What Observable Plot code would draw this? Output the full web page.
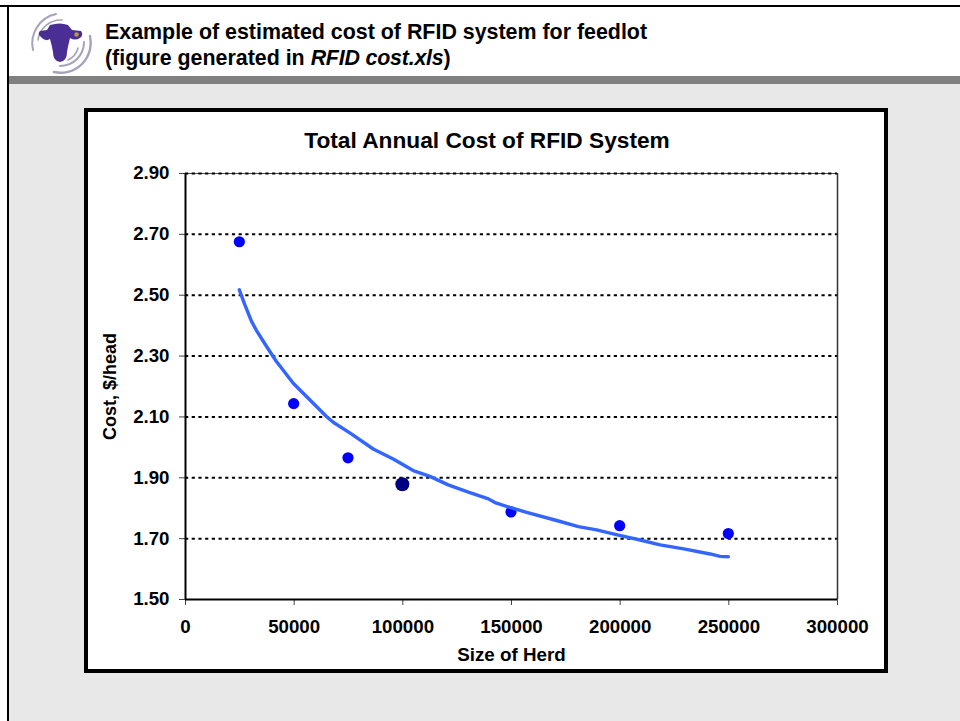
<!DOCTYPE html>
<html>
<head>
<meta charset="utf-8">
<script src="https://cdn.jsdelivr.net/npm/d3@7"></script>
<script src="https://cdn.jsdelivr.net/npm/@observablehq/plot@0.6"></script>
<style>
html,body{margin:0;padding:0;background:#fff;}
#slide{position:relative;width:960px;height:721px;overflow:hidden;background:#e8e8e8;font-family:"Liberation Sans",Arial,sans-serif;}
#top{position:absolute;left:0;top:5px;width:960px;height:2px;background:#000;}
#head{position:absolute;left:9px;top:7px;width:951px;height:69px;background:#fff;}
#bar{position:absolute;left:9px;top:76px;width:951px;height:8px;background:#808080;}
#white0{position:absolute;left:0;top:0;width:960px;height:5px;background:#fff;}
#white1{position:absolute;left:0;top:0;width:7px;height:721px;background:#fff;}
#left{position:absolute;left:7px;top:5px;width:2px;height:716px;background:#000;}
#frame{position:absolute;left:84px;top:108px;width:796px;height:557px;background:#fff;border:4px solid #000;}
#hd{position:absolute;left:105px;top:19px;font-weight:bold;font-size:21.4px;line-height:26px;color:#000;white-space:nowrap;}
#hd i{letter-spacing:-0.2px;}
#logo{position:absolute;left:27px;top:10px;}
#chart{position:absolute;left:0;top:0;}
#chart svg{background:transparent;}
</style>
</head>
<body>
<div id="slide">
  <div id="white0"></div><div id="white1"></div>
  <div id="top"></div><div id="head"></div><div id="bar"></div><div id="left"></div>
  <div id="frame"></div>
  <svg id="logo" width="68" height="66" viewBox="27 10 68 66">
    <defs><filter id="b"><feGaussianBlur stdDeviation="0.7"/></filter></defs>
    <g fill="none" stroke="#a6a2b8" filter="url(#b)" stroke-linecap="round">
      <path d="M33 50A30 30 0 0 1 56 14" stroke-width="2"/>
      <path d="M38 40A23 23 0 0 1 62 20" stroke-width="1.6"/>
      <path d="M90 36A30 30 0 0 1 54 72" stroke-width="2.4"/>
      <path d="M84 42A24 24 0 0 1 60 66" stroke-width="2"/>
      <path d="M78 48A18 18 0 0 1 68 60" stroke-width="1.6"/>
    </g>
    <path filter="url(#b)" fill="#4b2e93" d="M50 25Q60 22 68 25L72 30L81 31Q84 35 80 38Q75 41 70 38Q68 46 67 52Q67 61 60 62Q53 61 53 52Q52 46 50 39Q45 42 41 37Q37 34 40 31L47 30Z"/>
    <circle cx="76.5" cy="34.5" r="2.2" fill="#b59a52"/>
  </svg>
  <div id="hd">Example of estimated cost of RFID system for feedlot<br>(figure generated in <i>RFID cost.xls</i>)</div>
  <div id="chart"></div>
</div>
<script>
const herd = [25000, 50000, 75000, 150000, 200000, 250000];
const cost = [2.674, 2.142, 1.964, 1.786, 1.741, 1.715];
const highlightHerd = [100000];
const highlightCost = [1.877];
const fitHerd = [25000,27600,30700,33000,36800,41900,49800,57500,65200,68200,76700,86600,95800,105000,112700,121100,130400,139600,142600,149500,157200,171000,181000,189400,199400,209400,218600,230100,241600,246200,250000];
const fitCost = [2.516,2.466,2.411,2.381,2.338,2.282,2.209,2.154,2.099,2.081,2.042,1.993,1.960,1.922,1.903,1.875,1.851,1.829,1.817,1.801,1.785,1.758,1.738,1.727,1.710,1.694,1.678,1.664,1.648,1.640,1.639];
const yTicks = [1.5,1.7,1.9,2.1,2.3,2.5,2.7,2.9];
const gridTicks = [1.7,1.9,2.1,2.3,2.5,2.7,2.9];
const xTicks = [0,50000,100000,150000,200000,250000,300000];
const chartTitle = "Total Annual Cost of RFID System";
const xLabel = "Size of Herd";
const yLabel = "Cost, $/head";

const points = herd.map((h,i)=>({h,c:cost[i]}));
const hi = highlightHerd.map((h,i)=>({h,c:highlightCost[i]}));
const fit = fitHerd.map((h,i)=>({h,c:fitCost[i]}));
const font = {fontSize:18.7, fontWeight:"bold", fill:"#000"};

const plot = Plot.plot({
  width:960, height:721,
  marginLeft:185, marginRight:123, marginTop:173, marginBottom:122,
  style:{background:"transparent", fontFamily:"'Liberation Sans',Arial,sans-serif", color:"#000", overflow:"visible"},
  x:{domain:[0,300000], label:null},
  y:{domain:[1.5,2.9], label:null},
  marks:[
    Plot.ruleY(gridTicks,{stroke:"#000",strokeWidth:2,strokeDasharray:"3.2,3.5"}),
    Plot.axisY({ticks:yTicks,tickFormat:d3.format(".2f"),tickSize:6,tickPadding:10,stroke:"#444",label:null,...font}),
    Plot.axisX({ticks:xTicks,tickFormat:d3.format("d"),tickSize:6,tickPadding:14.5,stroke:"#444",label:null,...font}),
    Plot.ruleX([300000],{stroke:"#333",strokeWidth:1.5}),
    Plot.ruleY([2.9],{stroke:"#000",strokeWidth:1,strokeOpacity:0.7}),
    Plot.ruleX([0],{stroke:"#000",strokeWidth:2}),
    Plot.ruleY([1.5],{stroke:"#000",strokeWidth:2}),
    Plot.dot(points,{x:"h",y:"c",r:5.6,fill:"#0000ff",stroke:"none",dx:-0.5,dy:-0.5}),
    Plot.dot(hi,{x:"h",y:"c",r:7,fill:"#000080",stroke:"none",dx:-0.5,dy:-0.5}),
    Plot.line(fit,{x:"h",y:"c",stroke:"#3366ff",strokeWidth:3.4,curve:"linear",strokeLinecap:"round",dx:-0.5,dy:-0.5}),
    Plot.text([chartTitle],{frameAnchor:"top",dy:-42,fontSize:22.7,fontWeight:"bold",fill:"#000",dx:-24.5}),
    Plot.text([xLabel],{frameAnchor:"bottom",dy:61,fontSize:18.8,fontWeight:"bold",fill:"#000"}),
    Plot.text([yLabel],{frameAnchor:"left",textAnchor:"middle",rotate:-90,dx:-75,dy:0,fontSize:18,fontWeight:"bold",fill:"#000"})
  ]
});
document.getElementById("chart").appendChild(plot);
</script>
</body>
</html>
